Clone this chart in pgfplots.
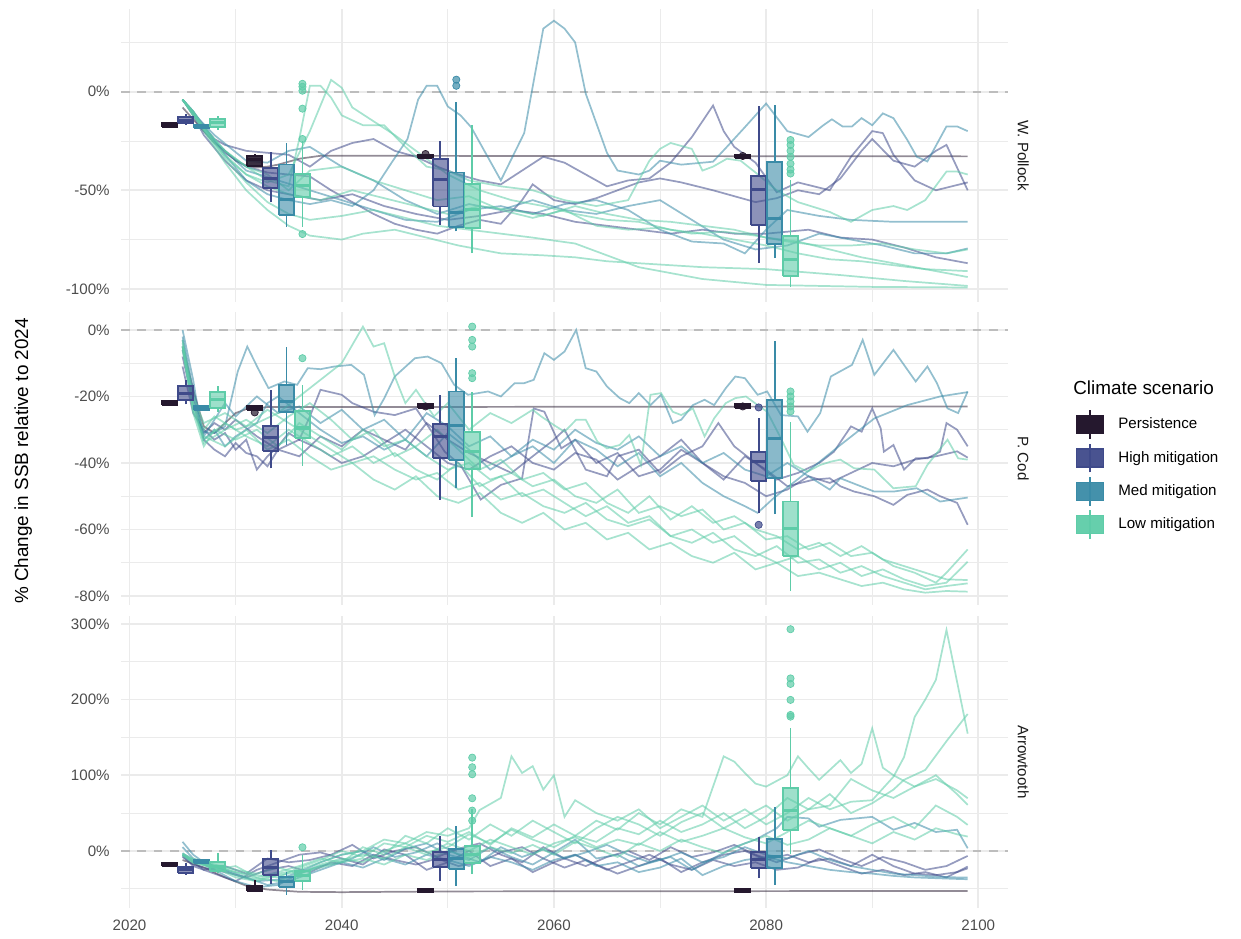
\documentclass[border=0pt]{standalone}
\usepackage{fontspec}
\setmainfont{Liberation Sans}
\usepackage{pgfplots}
\pgfplotsset{compat=1.18}
\definecolor{pers}{HTML}{25182E}
\definecolor{high}{HTML}{3F4A8A}
\definecolor{med}{HTML}{3A8BA7}
\definecolor{low}{HTML}{5ECCA8}
\definecolor{gridc}{HTML}{EBEBEB}
\definecolor{tickc}{HTML}{4D4D4D}
\definecolor{stripc}{HTML}{1A1A1A}
\definecolor{zeroc}{HTML}{BDBDBD}

% box: colour, left, position, right, lower whisker, q1, median, q3, upper whisker
\newcommand\bx[9]{%
\addplot[#1, line width=1.1bp, forget plot] coordinates {(#3,#5)(#3,#6)};
\addplot[#1, line width=1.1bp, forget plot] coordinates {(#3,#8)(#3,#9)};
\addplot[draw=#1, fill=#1, fill opacity=0.6, line width=1.1bp, line join=miter, forget plot] coordinates {(#2,#6)(#4,#6)(#4,#8)(#2,#8)(#2,#6)};
\addplot[#1, line width=1.8bp, forget plot] coordinates {(#2,#7)(#4,#7)};}
\newcommand\bxp[9]{%
\addplot[#1, line width=1.1bp, forget plot] coordinates {(#3,#5)(#3,#6)};
\addplot[#1, line width=1.1bp, forget plot] coordinates {(#3,#8)(#3,#9)};
\addplot[draw=#1, fill=#1, fill opacity=0.9, line width=1.1bp, line join=miter, forget plot] coordinates {(#2,#6)(#4,#6)(#4,#8)(#2,#8)(#2,#6)};
\addplot[#1, line width=1.8bp, forget plot] coordinates {(#2,#7)(#4,#7)};}
\newcommand\outl[2]{%
\addplot[only marks, mark=*, mark size=2.1bp, color=#1, mark options={draw=none, fill=#1, fill opacity=0.7}, forget plot] coordinates {#2};}

\pgfplotsset{
  ln/.style={#1, draw opacity=0.55, line width=1bp, forget plot, no marks},
  panel/.style={
    scale only axis, width=514.46bp, anchor=south west,
    xmin=2019.2, xmax=2102.8,
    xtick={2020,2040,2060,2080,2100}, minor xtick={2030,2050,2070,2090},
    grid=both,
    major grid style={draw=gridc, line width=1.05bp},
    minor grid style={draw=gridc, line width=0.53bp},
    axis line style={draw=none},
    major tick length=0pt, minor tick length=0pt,
    tick style={draw=none},
    every tick label/.append style={font=\fontsize{8.8}{10.5}\selectfont, text=tickc, inner sep=0pt},
    yticklabel style={xshift=-6.4bp},
    xticklabel style={yshift=-6.5bp},
  },
  zero/.style={zeroc, dash pattern=on 5bp off 4.5bp, line width=1bp, forget plot},
}

\begin{document}
\begin{tikzpicture}
\path[use as bounding box] (0,0) rectangle (719.8bp,544.6bp);

% ================= W. Pollock =================
\begin{axis}[panel, at={(70.2bp,369.5bp)}, height=169.94bp,
  ymin=-106.6, ymax=42,
  ytick={-100,-50,0}, yticklabels={-100\%,-50\%,0\%}, minor ytick={-75,-25,25},
  xticklabels={,,,,}]
\addplot[zero] coordinates {(2019.2,0) (2102.8,0)};
\addplot[ln=pers, draw opacity=0.5] coordinates {(2025,-8)(2026,-14)(2027,-20)(2028,-26)(2029,-30)(2030,-35)(2031,-37.5)(2032,-38.5)(2033,-38)(2034,-37)(2035,-35.5)(2036,-34)(2038,-32.5)(2040,-32.5)(2099,-32.8)};
% high
\addplot[ln=high] coordinates {(2025,-4)(2026,-10)(2027,-18)(2028,-24)(2029,-27)(2031,-30)(2033,-31)(2035,-32)(2037,-38)(2039,-30)(2041,-26)(2043,-24)(2045,-30)(2047,-33)(2049,-38)(2051,-42)(2053,-45)(2055,-47)(2057,-40)(2059,-33)(2061,-36)(2063,-42)(2065,-48)(2067,-45)(2069,-44)(2071,-36)(2073,-23)(2075,-7)(2076,-20)(2077,-28)(2079,-36)(2081,-51)(2083,-46)(2086,-50)(2088,-33)(2090,-20)(2091,-21)(2092,-32)(2094,-45)(2096,-50)(2099,-46)};
\addplot[ln=high] coordinates {(2025,-4)(2026,-11)(2027,-20)(2029,-31)(2031,-38)(2033,-41)(2035,-42)(2037,-43)(2039,-50)(2041,-56)(2043,-62)(2045,-67)(2047,-70)(2049,-72)(2051,-68)(2053,-65)(2055,-67)(2057,-55)(2058,-47)(2060,-55)(2062,-57)(2064,-54)(2066,-50)(2068,-46)(2070,-44)(2072,-46)(2075,-50)(2077,-53)(2079,-56)(2081,-54)(2083,-50)(2085,-52)(2087,-44)(2089,-30)(2090,-24)(2092,-35)(2094,-38)(2096,-30)(2097,-27)(2099,-50)};
\addplot[ln=high] coordinates {(2025,-4)(2026,-12)(2027,-22)(2029,-35)(2031,-45)(2033,-50)(2035,-52)(2038,-55)(2041,-52)(2044,-58)(2047,-62)(2050,-65)(2053,-63)(2056,-60)(2059,-62)(2062,-66)(2065,-68)(2068,-70)(2071,-72)(2074,-70)(2077,-72)(2080,-72)(2084,-70)(2087,-74)(2090,-75)(2093,-79)(2096,-84)(2099,-87)};
% med
\addplot[ln=med] coordinates {(2025,-4)(2026,-10)(2027,-17)(2029,-32)(2031,-45)(2033,-52)(2035,-55)(2037,-57)(2039,-55)(2041,-58)(2043,-50)(2044.7,-36)(2046.2,-24)(2047.2,-4)(2048,3)(2049,3)(2050,-7.5)(2051.2,-12)(2052.2,-18)(2055,-45)(2057.2,-21)(2059,32)(2060,36)(2061,32)(2062,25)(2063,-1)(2065,-31)(2066,-40)(2068,-42)(2069,-40)(2070,-35)(2072,-37)(2074,-36)(2075,-35.5)(2076.3,-28)(2078,-18)(2080,-6)(2082,-20)(2084,-23)(2085.4,-17)(2086.2,-14)(2087.2,-17.6)(2088.1,-17.6)(2089,-13.4)(2090,-17)(2091,-11)(2092,-13.4)(2093.3,-24.4)(2094.2,-33)(2095.2,-35.4)(2097,-17.6)(2098,-17.6)(2099,-20)};
\addplot[ln=med] coordinates {(2025,-4)(2026,-11)(2028,-25)(2031,-40)(2034,-45)(2037,-50)(2040,-55)(2043,-60)(2046,-65)(2049,-66)(2052,-60)(2055,-58)(2058,-62)(2061,-57)(2064,-55)(2067,-60)(2070,-70)(2073,-76)(2076,-77)(2078,-82)(2080,-70)(2082,-60)(2085,-63)(2088,-65)(2092,-66)(2099,-66)};
\addplot[ln=med] coordinates {(2025,-4)(2026,-11)(2028,-22)(2031,-35)(2033,-36)(2035,-30)(2037,-28)(2040,-38)(2043,-45)(2046,-55)(2049,-62)(2052,-57)(2055,-60)(2058,-55)(2061,-60)(2064,-62)(2067,-58)(2070,-55)(2073,-65)(2076,-75)(2079,-80)(2082,-78)(2085,-72)(2088,-75)(2091,-78)(2094,-82)(2097,-82)(2099,-79.5)};
% low
\addplot[ln=low] coordinates {(2025,-4)(2026,-10)(2027,-18)(2029,-30)(2031,-38)(2033,-45)(2035,-48)(2036,-24)(2037,3)(2038,3)(2039,-3)(2040,-12)(2042,-17)(2044,-17)(2046,-28)(2048,-38)(2050,-40)(2052,-45)(2055,-48)(2058,-50)(2061,-55)(2064,-58)(2067,-55)(2069,-35)(2070,-29)(2071,-26)(2073,-29)(2074,-40)(2075,-38)(2076.3,-34)(2077.6,-35)(2079,-41)(2081,-50)(2083,-56)(2086,-61)(2088,-66)(2090,-60)(2092,-58)(2093.3,-60)(2095,-55)(2097,-40.5)(2098,-40.5)(2099,-42)};
\addplot[ln=low] coordinates {(2025,-4)(2026,-11)(2027,-19)(2029,-32)(2031,-42)(2033,-46)(2035,-42)(2037,-20)(2039,6)(2040,2)(2041,-8)(2043,-15)(2045,-22)(2047,-30)(2050,-42)(2053,-50)(2056,-55)(2059,-58)(2062,-62)(2065,-65)(2068,-66)(2071,-70)(2074,-72)(2077,-75)(2080,-78)(2083,-82)(2086,-85)(2089,-86)(2092,-88)(2095,-90)(2099,-91)};
\addplot[ln=low] coordinates {(2025,-4)(2026,-12)(2027,-20)(2029,-36)(2031,-50)(2033,-60)(2035,-68)(2037,-73)(2040,-75)(2042,-72)(2045,-70)(2048,-74)(2051,-78)(2055,-82)(2059,-83)(2062,-84)(2065,-86)(2068,-87)(2074,-89)(2080,-90)(2087,-93)(2093,-96)(2099,-98.5)};
\addplot[ln=low] coordinates {(2025,-4)(2026,-12)(2027,-19)(2029,-34)(2031,-46)(2033,-56)(2035,-62)(2037,-65)(2040,-63)(2043,-60)(2046,-64)(2049,-68)(2052,-70)(2055,-72)(2058,-74)(2062,-77)(2065,-83)(2068,-89)(2074,-95)(2080,-98)(2090,-99)(2099,-99.3)};
\addplot[ln=low] coordinates {(2025,-4)(2026,-11)(2027,-19)(2029,-33)(2031,-42)(2033,-48)(2035,-52)(2038,-55)(2041,-50)(2044,-54)(2047,-58)(2050,-62)(2053,-58)(2056,-60)(2059,-63)(2062,-58)(2065,-62)(2068,-65)(2071,-66)(2074,-68)(2077,-70)(2080,-74)(2083,-76)(2086,-80)(2089,-84)(2092,-87)(2095,-90)(2099,-94)};
\addplot[ln=low] coordinates {(2025,-4)(2026,-10)(2027,-18)(2029,-30)(2031,-38)(2033,-42)(2035,-50)(2037,-40)(2040,-38)(2043,-45)(2046,-50)(2049,-55)(2052,-53)(2055,-60)(2058,-64)(2061,-60)(2064,-68)(2067,-70)(2070,-69)(2073,-72)(2076,-71)(2079,-73)(2082,-76)(2085,-78)(2088,-78)(2091,-77)(2094,-80)(2097,-82)(2099,-80)};
% boxplots
\bxp{pers}{2023.075}{2023.8}{2024.525}{-17.8}{-17.8}{-16.8}{-15.8}{-15.8}
\bx{high}{2024.575}{2025.3}{2026.025}{-16.8}{-15.9}{-14.4}{-12.8}{-11.3}
\bx{med}{2026.075}{2026.8}{2027.525}{-18.6}{-18.4}{-17.8}{-17.1}{-16.9}
\bx{low}{2027.575}{2028.3}{2029.025}{-19.3}{-17.9}{-15.5}{-13.9}{-12.5}
\bxp{pers}{2031.075}{2031.8}{2032.525}{-38.2}{-37.9}{-34.5}{-32.8}{-31.6}
\bx{high}{2032.575}{2033.3}{2034.025}{-55.7}{-48.9}{-43.9}{-38.7}{-30.8}
\bx{med}{2034.075}{2034.8}{2035.525}{-68.4}{-62.4}{-54.8}{-36.9}{-26}
\bx{low}{2035.575}{2036.3}{2037.025}{-68.4}{-53.5}{-47.4}{-41.6}{-25}
\outl{low}{(2036.3,4)(2036.3,2.5)(2036.3,0.5)(2036.3,-8.6)(2036.3,-24)(2036.3,-72.2)}
\bxp{pers}{2047.175}{2047.9}{2048.625}{-33.6}{-33.6}{-32.8}{-32}{-32}
\outl{pers}{(2047.9,-31.6)}
\bx{high}{2048.575}{2049.3}{2050.025}{-67.5}{-58.2}{-44.7}{-34.2}{-25.2}
\bx{med}{2050.075}{2050.8}{2051.525}{-70.9}{-68.4}{-61.3}{-41}{-5.4}
\outl{med}{(2050.8,6.1)(2050.8,3.0)}
\bx{low}{2051.575}{2052.3}{2053.025}{-81.9}{-69.2}{-59.6}{-46.7}{-16.8}
\bxp{pers}{2077.075}{2077.8}{2078.525}{-33.6}{-33.6}{-32.8}{-32}{-32}
\outl{pers}{(2077.8,-32.6)}
\bx{high}{2078.575}{2079.3}{2080.025}{-87}{-67.5}{-49.7}{-42.6}{-7.5}
\bx{med}{2080.075}{2080.8}{2081.525}{-84.4}{-77.2}{-64.5}{-35.7}{-6.6}
\bx{low}{2081.575}{2082.3}{2083.025}{-99.1}{-93.4}{-85.3}{-73.4}{-45}
\outl{low}{(2082.3,-24.5)(2082.3,-27)(2082.3,-30)(2082.3,-33)(2082.3,-36.5)(2082.3,-39.5)(2082.3,-41.5)}
\end{axis}

% ================= P. Cod =================
\begin{axis}[panel, at={(70.2bp,193.7bp)}, height=169.94bp,
  ymin=-82.7, ymax=5.4,
  ytick={-80,-60,-40,-20,0}, yticklabels={-80\%,-60\%,-40\%,-20\%,0\%}, minor ytick={-70,-50,-30,-10},
  xticklabels={,,,,},
  legend style={at={(axis description cs:1.0766,0.667)}, anchor=north west, draw=none, fill=none,
    inner sep=0pt, outer sep=0pt, font=\fontsize{8.8}{10.5}\selectfont, row sep=1.9bp, column sep=8.2bp,
    nodes={inner sep=0pt}},
  legend cell align=left]
\addplot[zero] coordinates {(2019.2,0) (2102.8,0)};
\addplot[ln=pers, draw opacity=0.5] coordinates {(2025,-5)(2026,-18)(2027,-29)(2028,-31)(2029,-28)(2030,-25)(2031,-23.8)(2033,-23.2)(2099,-23)};
% high
\addplot[ln=high] coordinates {(2025,-11)(2026,-25)(2027,-30)(2028,-33)(2029,-31)(2030,-36)(2031,-33)(2032,-42)(2033,-38)(2034,-35)(2035,-31)(2036,-33)(2037,-26)(2038,-18)(2040,-19.5)(2041,-22)(2043,-24.6)(2045,-25.6)(2047,-23.6)(2048.7,-31.6)(2049.7,-36.6)(2051.2,-40.6)(2053.1,-51)(2055,-46.6)(2057,-44.6)(2058.1,-23.6)(2059.1,-24.6)(2060.7,-35.6)(2062,-33)(2064,-40)(2066,-37)(2068,-44)(2070,-42)(2072,-36)(2074,-40)(2076,-45)(2078,-38)(2080,-42)(2082,-47)(2084.5,-45)(2086,-44.6)(2087,-47)(2088.3,-48.6)(2090.2,-50)(2092,-52.6)(2093.3,-49.6)(2095.2,-48)(2096.4,-50)(2098,-52)(2099,-58.6)};
\addplot[ln=high] coordinates {(2025,-8)(2026,-22)(2027,-33)(2028,-36)(2029,-38)(2030,-34)(2031,-37)(2032,-38)(2033,-41)(2034,-36)(2036,-38)(2038,-32)(2040,-35)(2042,-30)(2044,-33)(2046,-36)(2048,-28)(2050,-33)(2052,-37)(2054,-40)(2056,-43)(2058,-38)(2060,-33)(2061,-30)(2063,-42)(2065,-44)(2066,-38)(2068,-36)(2070,-43)(2072,-38)(2074,-35)(2075.5,-28)(2077,-35)(2079,-40)(2081,-45)(2083,-43)(2085,-40)(2086.4,-36.6)(2088,-29)(2089,-30.6)(2090,-23.6)(2090.8,-29.6)(2091.1,-36.6)(2092,-34.6)(2093,-42)(2094.1,-38.6)(2095.2,-38.6)(2096.4,-36.6)(2097,-28)(2098,-30)(2099,-35)};
\addplot[ln=high] coordinates {(2025,-6)(2026,-20)(2027,-31)(2028,-28)(2029,-30)(2030,-27)(2032,-32)(2034,-36)(2036,-33)(2038,-36)(2040,-40)(2042,-38)(2044,-34)(2046,-30)(2048,-35)(2050,-40)(2052,-42)(2054,-38)(2056,-35)(2058,-40)(2060,-42)(2062,-37)(2064,-39)(2066,-45)(2068,-41)(2070,-38)(2072,-33)(2074,-40)(2076,-44)(2078,-46)(2080,-50)(2082,-48)(2084,-44)(2086,-46)(2088,-43)(2090,-40)(2092,-41)(2094,-39)(2096,-38)(2098,-36.5)(2099,-38.4)};
% med
\addplot[ln=med] coordinates {(2025,0)(2026,-15)(2026.8,-30.6)(2028,-31)(2029,-29)(2030.2,-12.5)(2031.1,-5)(2032.1,-11.5)(2033.1,-17.5)(2034.6,-15.5)(2035.8,-16.5)(2036.8,-11.5)(2038,-11.8)(2039.3,-11)(2040.9,-10.5)(2042.1,-13.5)(2043.1,-25.6)(2044,-20.6)(2045,-14)(2046.9,-8.5)(2048.1,-8)(2049.4,-10)(2050.6,-16.5)(2051.9,-19.5)(2053.8,-18.5)(2055,-20)(2056.3,-16)(2057.2,-16)(2058.1,-15)(2059.1,-7)(2060,-9)(2061,-6.5)(2062.1,0)(2063,-11.5)(2064,-12.5)(2065,-17)(2066.2,-20.5)(2067.1,-22)(2068,-19)(2069.1,-22.6)(2070.1,-19.5)(2071.2,-28)(2072,-27)(2073.1,-22.6)(2074.2,-21)(2075.1,-22.6)(2076.2,-17.5)(2077.1,-14)(2078,-14.5)(2079.2,-19.5)(2080.1,-18.5)(2081.4,-25.6)(2083,-26)(2083.9,-30.6)(2085.1,-25)(2086.1,-14)(2088.1,-10.5)(2089.1,-3)(2090.2,-13.5)(2092,-6)(2094.1,-15.5)(2095.2,-11)(2096.1,-16)(2097.1,-23.6)(2098.1,-25)(2099,-18.5)};
\addplot[ln=med] coordinates {(2025,-3)(2026,-20)(2027,-33)(2028,-30)(2029,-35)(2030,-32)(2032,-28)(2033,-22)(2034,-20)(2036,-25)(2038,-30)(2040,-34)(2042,-32)(2044,-36)(2046,-33)(2048,-38)(2050,-31)(2052,-36)(2054,-42)(2056,-38)(2058,-35)(2060,-40)(2062,-33)(2064,-36)(2066,-41)(2068,-37)(2070,-44)(2072,-40)(2074,-46)(2076,-50)(2078,-53)(2079.2,-55)(2080.7,-50.6)(2083.9,-42.6)(2087,-34.6)(2090.2,-26.6)(2093.3,-22.6)(2096.4,-20)(2099,-18.7)};
\addplot[ln=med] coordinates {(2025,-2)(2026,-18)(2027,-32)(2028,-27)(2029,-22)(2030,-26)(2032,-20)(2034,-25)(2036,-23)(2038,-28)(2040,-24)(2042,-30)(2044,-27)(2046,-33)(2048,-25)(2050,-29)(2052,-35)(2054,-32)(2056,-38)(2058,-33)(2060,-36)(2062,-30)(2064,-34)(2066,-36)(2068,-32)(2070,-38)(2072,-35)(2074,-40)(2076,-37)(2078,-42)(2080,-44)(2082,-40)(2084,-44)(2086,-48)(2087,-44.6)(2090.2,-48.6)(2092,-48.6)(2094.2,-47.6)(2096.4,-51.6)(2099,-50.4)};
% low
\addplot[ln=low] coordinates {(2025,-5)(2026,-22)(2027,-30)(2028,-26)(2030,-30)(2032,-28)(2034,-25)(2036,-20)(2038,-15)(2040,-10)(2042,1)(2043,-5)(2044,-4)(2045,-14)(2046,-22)(2047,-18)(2048.7,-26)(2050,-22)(2052,-30)(2054,-25)(2056,-28)(2058,-24)(2058.8,-26)(2060,-28.6)(2061,-30.6)(2062.1,-27)(2063,-27)(2064.1,-33.6)(2065,-35.6)(2066.2,-34.6)(2067.1,-31.6)(2068.2,-40.6)(2069.1,-19.5)(2070.1,-19)(2071.2,-24.6)(2072,-25.6)(2073.1,-23.6)(2074.2,-32)(2075.1,-26.6)(2076.2,-22)(2077.1,-20.5)(2078.1,-20)(2079.2,-22.6)(2080.1,-24.6)(2081.4,-32.6)(2082.6,-40.6)(2083.9,-42.6)(2085.1,-40.6)(2086.1,-39.6)(2087,-39)(2088.3,-41.6)(2090.2,-42)(2092,-47.6)(2094.1,-47)(2095.2,-40.6)(2097.1,-33)(2098.1,-38.6)(2099,-39)};
\addplot[ln=low] coordinates {(2025,-5)(2026,-25)(2027,-35)(2028,-30)(2030,-33)(2032,-30)(2034,-35)(2036,-28)(2038,-32)(2040,-36)(2042,-30)(2044,-35)(2046,-33)(2048,-38)(2050,-42)(2052,-40)(2054,-45)(2056,-43)(2058,-47)(2060,-45)(2062,-50)(2064,-52)(2066,-48)(2068,-55)(2070,-53)(2072,-56)(2074,-54)(2076,-60)(2078,-58)(2080,-63)(2082,-62)(2084,-66)(2086,-64)(2088,-68)(2090,-67)(2092,-71)(2094,-73)(2096,-76)(2097,-73)(2099,-66)};
\addplot[ln=low] coordinates {(2025,-6)(2026,-24)(2027,-33)(2029,-28)(2031,-32)(2033,-35)(2035,-30)(2037,-34)(2039,-38)(2041,-35)(2043,-40)(2045,-37)(2047,-42)(2049,-45)(2051,-40)(2053,-47)(2055,-44)(2057,-50)(2059,-48)(2061,-52)(2063,-56)(2065,-53)(2067,-58)(2069,-56)(2071,-62)(2073,-60)(2075,-64)(2077,-62)(2079,-67)(2081,-70)(2083,-68)(2085,-72)(2087,-70)(2089,-74)(2091,-72)(2093,-75)(2095,-77)(2097,-76)(2099,-69.7)};
\addplot[ln=low] coordinates {(2025,-4)(2026,-22)(2027,-34)(2029,-30)(2031,-27)(2033,-31)(2035,-26)(2037,-22)(2039,-27)(2041,-33)(2043,-30)(2045,-38)(2047,-35)(2049,-30)(2051,-36)(2053,-42)(2055,-39)(2057,-45)(2059,-43)(2061,-48)(2063,-46)(2065,-52)(2067,-55)(2069,-50)(2071,-57)(2073,-53)(2075,-58)(2077,-56)(2079,-60)(2081,-62)(2083,-66)(2085,-64)(2087,-68)(2089,-65)(2091,-69)(2093,-71)(2095,-73)(2097,-75)(2099,-75.2)};
\addplot[ln=low] coordinates {(2025,-3)(2026,-20)(2027,-28)(2029,-25)(2031,-29)(2033,-24)(2035,-28)(2037,-32)(2039,-36)(2041,-40)(2043,-38)(2045,-42)(2047,-45)(2049,-43)(2051,-48)(2053,-46)(2055,-51)(2057,-49)(2059,-53)(2061,-55)(2063,-52)(2065,-57)(2067,-59)(2069,-57)(2071,-62)(2073,-64)(2075,-61)(2077,-66)(2079,-68)(2081,-65)(2083,-70)(2085,-69)(2087,-73)(2089,-71)(2091,-74)(2093,-76)(2095,-78)(2097,-77)(2099,-76.2)};
\addplot[ln=low] coordinates {(2025,-5)(2026,-24)(2027,-32)(2029,-35)(2031,-30)(2033,-36)(2035,-33)(2037,-38)(2039,-42)(2041,-40)(2043,-45)(2045,-48)(2047,-44)(2049,-50)(2051,-52)(2053,-49)(2055,-55)(2057,-58)(2059,-55)(2061,-60)(2063,-58)(2065,-63)(2067,-61)(2069,-66)(2071,-64)(2073,-68)(2075,-70)(2077,-67)(2079,-72)(2081,-70)(2083,-74)(2085,-73)(2087,-75)(2089,-77)(2091,-76)(2093,-78)(2095,-79)(2097,-78.5)(2099,-78.7)};
% boxplots
\bxp{pers}{2023.075}{2023.8}{2024.525}{-22.6}{-22.6}{-22}{-21.4}{-21.4}
\bx{high}{2024.575}{2025.3}{2026.025}{-22.4}{-21.1}{-19}{-16.8}{-15}
\bx{med}{2026.075}{2026.8}{2027.525}{-24.4}{-24.2}{-23.6}{-22.8}{-22.6}
\bx{low}{2027.575}{2028.3}{2029.025}{-24.6}{-23.4}{-21}{-18.7}{-17}
\bxp{pers}{2031.075}{2031.8}{2032.525}{-24.2}{-24.2}{-23.6}{-23}{-23}
\outl{pers}{(2031.8,-24.8)}
\bx{high}{2032.575}{2033.3}{2034.025}{-41.6}{-36.4}{-32.4}{-28.8}{-18}
\bx{med}{2034.075}{2034.8}{2035.525}{-34.6}{-24.8}{-21.6}{-16.5}{-5}
\bx{low}{2035.575}{2036.3}{2037.025}{-40.8}{-32.6}{-29.5}{-24.4}{-16.5}
\outl{low}{(2036.3,-8.5)}
\bxp{pers}{2047.175}{2047.9}{2048.625}{-23.5}{-23.5}{-22.9}{-22.3}{-22.3}
\outl{pers}{(2047.9,-23)}
\bx{high}{2048.575}{2049.3}{2050.025}{-51.1}{-38.6}{-32.1}{-28.2}{-19.5}
\bx{med}{2050.075}{2050.8}{2051.525}{-47.6}{-39.1}{-28.6}{-18.5}{-8.3}
\bx{low}{2051.575}{2052.3}{2053.025}{-56.1}{-41.8}{-36.6}{-30.8}{-18.7}
\outl{low}{(2052.3,1)(2052.3,-3)(2052.3,-5)(2052.3,-13)(2052.3,-14.5)}
\bxp{pers}{2077.075}{2077.8}{2078.525}{-23.5}{-23.5}{-22.9}{-22.3}{-22.3}
\outl{pers}{(2077.8,-23)}
\bx{high}{2078.575}{2079.3}{2080.025}{-55.1}{-45.4}{-39.6}{-36.6}{-26.6}
\outl{high}{(2079.3,-23.3)(2079.3,-58.6)}
\bx{med}{2080.075}{2080.8}{2081.525}{-55.4}{-44.4}{-32.6}{-21.1}{-3.3}
\bx{low}{2081.575}{2082.3}{2083.025}{-78.5}{-68}{-59.8}{-51.6}{-27.8}
\outl{low}{(2082.3,-18.5)(2082.3,-20)(2082.3,-21.5)(2082.3,-23)(2082.3,-24.5)}
% legend
\addlegendimage{legend image code/.code={
  \draw[pers, line width=0.75bp] (7.83bp,-8.35bp) -- (7.83bp,8.35bp);
  \draw[pers, fill=pers, line width=0.75bp] (0bp,-5.22bp) rectangle (15.66bp,5.22bp);}}
\addlegendentry{Persistence}
\addlegendimage{legend image code/.code={
  \draw[high, line width=0.75bp] (7.83bp,-8.35bp) -- (7.83bp,8.35bp);
  \draw[high, fill=high, fill opacity=0.95, line width=0.75bp] (0bp,-5.22bp) rectangle (15.66bp,5.22bp);}}
\addlegendentry{High mitigation}
\addlegendimage{legend image code/.code={
  \draw[med, line width=0.75bp] (7.83bp,-8.35bp) -- (7.83bp,8.35bp);
  \draw[med, fill=med, fill opacity=0.95, line width=0.75bp] (0bp,-5.22bp) rectangle (15.66bp,5.22bp);}}
\addlegendentry{Med mitigation}
\addlegendimage{legend image code/.code={
  \draw[low, line width=0.75bp] (7.83bp,-8.35bp) -- (7.83bp,8.35bp);
  \draw[low, fill=low, fill opacity=0.95, line width=0.75bp] (0bp,-5.22bp) rectangle (15.66bp,5.22bp);}}
\addlegendentry{Low mitigation}
\end{axis}

% ================= Arrowtooth =================
\begin{axis}[panel, at={(70.2bp,18.0bp)}, height=169.36bp,
  ymin=-75.3, ymax=310.6,
  ytick={0,100,200,300}, yticklabels={0\%,100\%,200\%,300\%}, minor ytick={-50,50,150,250},
  xticklabels={2020,2040,2060,2080,2100}]
\addplot[zero] coordinates {(2019.2,0) (2102.8,0)};
\addplot[ln=pers, draw opacity=0.5] coordinates {(2025,-12)(2027,-22)(2029,-35)(2031,-46)(2033,-51)(2036,-54)(2040,-54.5)(2050,-53.5)(2099,-52.9)};
% high
\addplot[ln=high] coordinates {(2025,-5)(2026,-15)(2027,-25)(2029,-20)(2031,-30)(2033,-10)(2035,-15)(2037,-12)(2039,-5)(2041,8)(2043,-10)(2045,0)(2047,5)(2049,-8)(2051,3)(2053,10)(2055,-5)(2057,-15)(2059,5)(2061,-10)(2063,-20)(2065,-8)(2067,0)(2069,-12)(2071,5)(2073,-8)(2075,-2)(2077,8)(2079,-5)(2081,-15)(2083,-5)(2085,2)(2087,-10)(2089,-20)(2091,-8)(2093,-15)(2095,-25)(2097,-20)(2099,-6.6)};
\addplot[ln=high] coordinates {(2025,-8)(2026,-18)(2027,-22)(2029,-28)(2031,-35)(2033,-25)(2035,-20)(2037,-28)(2039,-15)(2041,-20)(2043,-5)(2045,-12)(2047,-18)(2049,-10)(2051,-20)(2053,-15)(2055,-2)(2057,5)(2059,-10)(2061,-22)(2063,-12)(2065,-25)(2067,-15)(2069,-5)(2071,-18)(2073,-25)(2075,-12)(2077,-20)(2079,-15)(2081,-25)(2083,-22)(2085,-10)(2087,-20)(2089,-30)(2091,-25)(2093,-32)(2095,-28)(2097,-35)(2099,-20.7)};
\addplot[ln=high] coordinates {(2025,-6)(2026,-20)(2028,-30)(2030,-40)(2032,-25)(2034,-15)(2036,-5)(2038,-2)(2040,-10)(2042,-18)(2044,2)(2046,-5)(2048,-25)(2050,-15)(2052,0)(2054,-20)(2056,-10)(2058,-28)(2060,-15)(2062,-5)(2064,-18)(2066,-30)(2068,-20)(2070,-10)(2072,-28)(2074,-15)(2076,-5)(2078,0)(2080,-12)(2082,-5)(2084,-15)(2086,-10)(2088,-20)(2090,-5)(2092,-20)(2094,-30)(2096,-32)(2098,-28)(2099,-23)};
% med
\addplot[ln=med] coordinates {(2025,12)(2026,-5)(2027,-15)(2029,-25)(2031,-35)(2033,-45)(2035,-40)(2037,-30)(2039,-20)(2041,-10)(2043,5)(2045,-8)(2047,-2)(2049,10)(2051,-5)(2053,-15)(2055,5)(2057,-8)(2059,2)(2061,-10)(2063,-2)(2065,8)(2067,-5)(2069,-15)(2071,-8)(2073,-25)(2075,-10)(2077,5)(2079,15)(2081,30)(2082,45)(2084,43)(2085,32)(2087,41)(2090,45)(2092,28)(2094,37)(2096,25)(2098,28)(2099,3.5)};
\addplot[ln=med] coordinates {(2025,5)(2026,-10)(2028,-25)(2030,-40)(2032,-48)(2034,-45)(2036,-30)(2038,-20)(2040,-15)(2042,-22)(2044,-10)(2046,-18)(2048,-5)(2050,-12)(2052,-20)(2054,-8)(2056,-15)(2058,-25)(2060,-12)(2062,-5)(2064,-20)(2066,-15)(2068,-28)(2070,-22)(2072,-10)(2074,-32)(2076,-20)(2078,-12)(2080,-8)(2082,-15)(2084,-20)(2086,-25)(2088,-28)(2090,-30)(2092,-33)(2094,-35)(2096,-36)(2098,-37)(2099,-37.4)};
\addplot[ln=med] coordinates {(2025,-3)(2026,-12)(2028,-20)(2030,-32)(2032,-40)(2034,-38)(2036,-28)(2038,-15)(2040,-5)(2042,0)(2044,-12)(2046,3)(2048,10)(2050,-5)(2052,-12)(2054,5)(2056,-8)(2058,-18)(2060,-2)(2062,15)(2064,-10)(2066,-5)(2068,-20)(2070,-12)(2072,-2)(2074,-15)(2076,-8)(2078,5)(2080,-5)(2082,-10)(2084,0)(2086,-12)(2088,-20)(2090,-25)(2092,-30)(2094,-32)(2096,-34)(2098,-35)(2099,-35)};
% low
\addplot[ln=low] coordinates {(2025,-5)(2026,-15)(2028,-22)(2030,-32)(2032,-38)(2034,-30)(2036,-25)(2038,-15)(2040,-5)(2042,0)(2044,15)(2046,10)(2048,25)(2050,20)(2052,30)(2053,54)(2055,70)(2056,125)(2057,103)(2058,112)(2059,81)(2060,100)(2061,45)(2062,67)(2064,50)(2066,40)(2068,55)(2070,30)(2072,45)(2074,60)(2076,40)(2078,55)(2080,35)(2082,50)(2084,70)(2086,55)(2088,65)(2090,67)(2092,98)(2093,124)(2094,177)(2095,200)(2096,226)(2097,292)(2099,155)};
\addplot[ln=low] coordinates {(2025,-5)(2026,-12)(2028,-25)(2030,-20)(2032,-35)(2034,-28)(2036,-20)(2038,-10)(2040,-15)(2042,5)(2044,-5)(2046,20)(2048,10)(2050,30)(2052,15)(2054,35)(2056,20)(2058,40)(2060,25)(2062,10)(2064,30)(2066,45)(2068,35)(2070,20)(2072,38)(2074,50)(2076,30)(2078,45)(2080,60)(2082,40)(2084,55)(2086,75)(2088,50)(2090,63)(2092,81)(2093,94)(2095,107)(2097,145)(2099,181)};
\addplot[ln=low] coordinates {(2025,-3)(2026,-14)(2028,-20)(2030,-28)(2032,-32)(2034,-35)(2036,-22)(2038,-12)(2040,0)(2042,-8)(2044,10)(2046,5)(2048,20)(2050,12)(2052,25)(2054,8)(2056,30)(2058,18)(2060,35)(2062,20)(2064,40)(2066,28)(2068,50)(2070,35)(2072,55)(2074,45)(2076,125)(2077,118)(2078,103)(2079,89)(2080,85)(2082,100)(2083,125)(2084,109)(2085,94)(2087,120)(2088,103)(2089,115)(2090,162)(2091,110)(2092,100)(2094,85)(2096,95)(2098,80)(2099,69.6)};
\addplot[ln=low] coordinates {(2025,-4)(2026,-10)(2028,-18)(2030,-25)(2032,-30)(2034,-22)(2036,-30)(2038,-18)(2040,-10)(2042,-15)(2044,0)(2046,10)(2048,-2)(2050,5)(2052,22)(2054,10)(2056,28)(2058,15)(2060,5)(2062,20)(2064,12)(2066,30)(2068,22)(2070,40)(2072,25)(2074,35)(2076,50)(2078,30)(2080,45)(2082,70)(2084,55)(2086,60)(2088,95)(2090,80)(2092,70)(2094,85)(2096,100)(2098,75)(2099,60.8)};
\addplot[ln=low] coordinates {(2025,-6)(2026,-16)(2028,-22)(2030,-35)(2032,-40)(2034,-32)(2036,-28)(2038,-20)(2040,-12)(2042,-5)(2044,-10)(2046,5)(2048,-5)(2050,10)(2052,0)(2054,15)(2056,5)(2058,-5)(2060,10)(2062,18)(2064,5)(2066,15)(2068,8)(2070,25)(2072,12)(2074,20)(2076,30)(2078,18)(2080,10)(2082,25)(2084,40)(2086,30)(2088,20)(2090,35)(2092,45)(2094,30)(2096,60)(2098,45)(2099,34.4)};
\addplot[ln=low] coordinates {(2025,-5)(2026,-14)(2028,-20)(2030,-28)(2032,-36)(2034,-40)(2036,-30)(2038,-22)(2040,-15)(2042,-10)(2044,-18)(2046,-5)(2048,-12)(2050,0)(2052,-8)(2054,5)(2056,-3)(2058,8)(2060,-5)(2062,12)(2064,3)(2066,-8)(2068,10)(2070,0)(2072,15)(2074,5)(2076,-3)(2078,10)(2080,20)(2082,8)(2084,15)(2086,30)(2088,20)(2090,10)(2092,25)(2094,15)(2096,30)(2098,22)(2099,19)};
% boxplots
\bxp{pers}{2023.075}{2023.8}{2024.525}{-20.5}{-20.5}{-18.5}{-16.5}{-16.5}
\bx{high}{2024.575}{2025.3}{2026.025}{-31.7}{-29.5}{-25}{-20.7}{-16.3}
\bx{med}{2026.075}{2026.8}{2027.525}{-17}{-16.3}{-14}{-11.9}{-11}
\bx{low}{2027.575}{2028.3}{2029.025}{-29.5}{-26.4}{-20.7}{-15}{-2.2}
\bxp{pers}{2031.075}{2031.8}{2032.525}{-53}{-52.9}{-49.3}{-46.3}{-39}
\bx{high}{2032.575}{2033.3}{2034.025}{-43.6}{-31.7}{-21.6}{-11}{1.3}
\bx{med}{2034.075}{2034.8}{2035.525}{-58.1}{-48}{-40.5}{-33.9}{-27.3}
\bx{low}{2035.575}{2036.3}{2037.025}{-51.5}{-39.6}{-32.6}{-26}{-5.3}
\outl{low}{(2036.3,4.8)}
\bxp{pers}{2047.175}{2047.9}{2048.625}{-55}{-55}{-52.9}{-50.8}{-50.8}
\bx{high}{2048.575}{2049.3}{2050.025}{-39.2}{-20.7}{-11}{-0.9}{20.3}
\bx{med}{2050.075}{2050.8}{2051.525}{-46.3}{-24.2}{-9.7}{2.2}{33}
\bx{low}{2051.575}{2052.3}{2053.025}{-30.8}{-16.3}{-5.3}{7}{55}
\outl{low}{(2052.3,123.3)(2052.3,110.6)(2052.3,101.3)(2052.3,69.6)(2052.3,53.3)(2052.3,40)}
\bxp{pers}{2077.075}{2077.8}{2078.525}{-55}{-55}{-52.9}{-50.8}{-50.8}
\bx{high}{2078.575}{2079.3}{2080.025}{-36.1}{-22}{-11}{-1.8}{19}
\bx{med}{2080.075}{2080.8}{2081.525}{-45}{-22}{-7.5}{15.9}{58.6}
\bx{low}{2081.575}{2082.3}{2083.025}{-4.4}{27.8}{52.9}{82.8}{162}
\outl{low}{(2082.3,293)(2082.3,228)(2082.3,220.7)(2082.3,199.6)(2082.3,179.7)(2082.3,177.5)}
\end{axis}

% strip labels, axis title, legend title
\node[rotate=-90, font=\fontsize{8.8}{10.5}\selectfont, text=stripc, inner sep=0pt] at (593.5bp,454.4bp) {W. Pollock};
\node[rotate=-90, font=\fontsize{8.8}{10.5}\selectfont, text=stripc, inner sep=0pt] at (593.5bp,278.7bp) {P. Cod};
\node[rotate=-90, font=\fontsize{8.8}{10.5}\selectfont, text=stripc, inner sep=0pt] at (593.5bp,102.7bp) {Arrowtooth};
\node[rotate=90, font=\fontsize{11}{13}\selectfont, inner sep=0pt] at (13.5bp,277.2bp) {\% Change in SSB relative to 2024};
\node[anchor=west, font=\fontsize{11}{13}\selectfont, inner sep=0pt] at (622.3bp,319.6bp) {Climate scenario};
\end{tikzpicture}
\end{document}
